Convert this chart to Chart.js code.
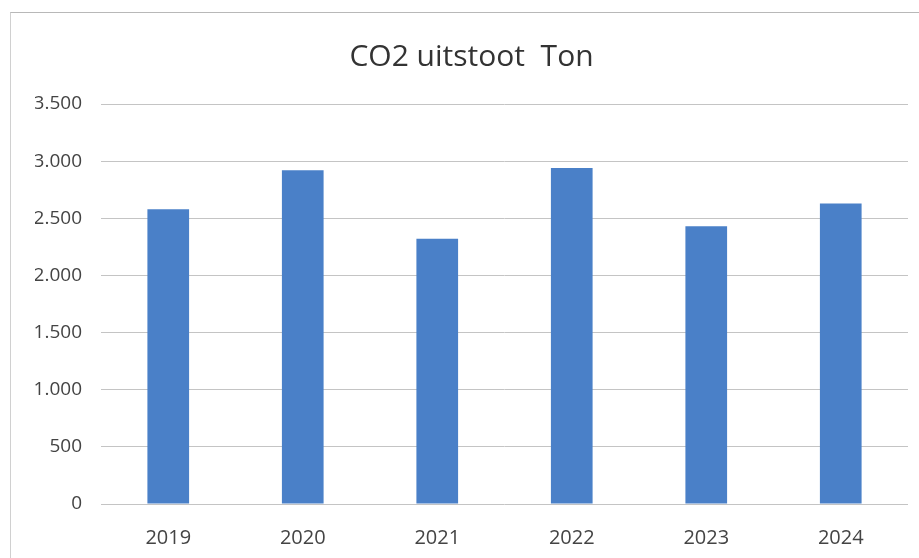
<!DOCTYPE html>
<html lang="nl">
<head>
    <meta charset="UTF-8">
    <title>CO2 uitstoot Ton</title>
    <style>
        body {
            margin: 0;
            background: white;
        }

        .chart-box {
            position: absolute;
            left: 10px;
            top: 12px;
            width: 909px;
            height: 546px;
            border-top: 1px solid #b8b8b8;
            border-left: 1px solid #d0d0d0;
        }
    </style>
</head>
<body>
    <div class="chart-box">
        <canvas id="co2Chart" width="909" height="546"></canvas>
    </div>

    <script src="https://cdn.jsdelivr.net/npm/chart.js"></script>
    <script>
        const years = ['2019', '2020', '2021', '2022', '2023', '2024'];
        const tonnes = [2580, 2920, 2320, 2940, 2430, 2630];
        const yTicks = [0, 500, 1000, 1500, 2000, 2500, 3000, 3500];

        const fontFamily = "'Open Sans', 'Liberation Sans', sans-serif";

        new Chart(document.getElementById('co2Chart'), {
            type: 'bar',
            data: {
                labels: years,
                datasets: [{
                    label: 'CO2 uitstoot Ton',
                    data: tonnes,
                    backgroundColor: '#4a80c8',
                    barPercentage: 0.31,
                    categoryPercentage: 1
                }]
            },
            options: {
                responsive: false,
                animation: false,
                layout: {
                    // extra left padding pushes the title towards the plot centre
                    padding: { top: 0, right: 12, bottom: 0, left: 24 }
                },
                plugins: {
                    legend: { display: false },
                    tooltip: { enabled: false },
                    title: {
                        display: true,
                        text: 'CO2 uitstoot  Ton',
                        color: '#333333',
                        font: { family: fontFamily, size: 30, weight: 'normal' },
                        padding: { top: 26, bottom: 29 }
                    }
                },
                scales: {
                    y: {
                        min: 0,
                        max: 3500,
                        afterBuildTicks: function(scale) {
                            scale.ticks = yTicks.map(v => ({ value: v }));
                        },
                        afterFit: function(scale) {
                            scale.width = 66;
                        },
                        border: { display: false },
                        grid: {
                            color: '#c4c4c4',
                            lineWidth: 1,
                            drawTicks: false
                        },
                        ticks: {
                            color: '#444444',
                            padding: 19,
                            font: { family: fontFamily, size: 19 },
                            callback: function(value) {
                                return value.toLocaleString('nl-NL');
                            }
                        }
                    },
                    x: {
                        afterFit: function(scale) {
                            scale.height = 55;
                        },
                        border: { display: false },
                        grid: { display: false },
                        ticks: {
                            color: '#444444',
                            padding: 14,
                            font: { family: fontFamily, size: 20 }
                        }
                    }
                }
            }
        });
    </script>
</body>
</html>
